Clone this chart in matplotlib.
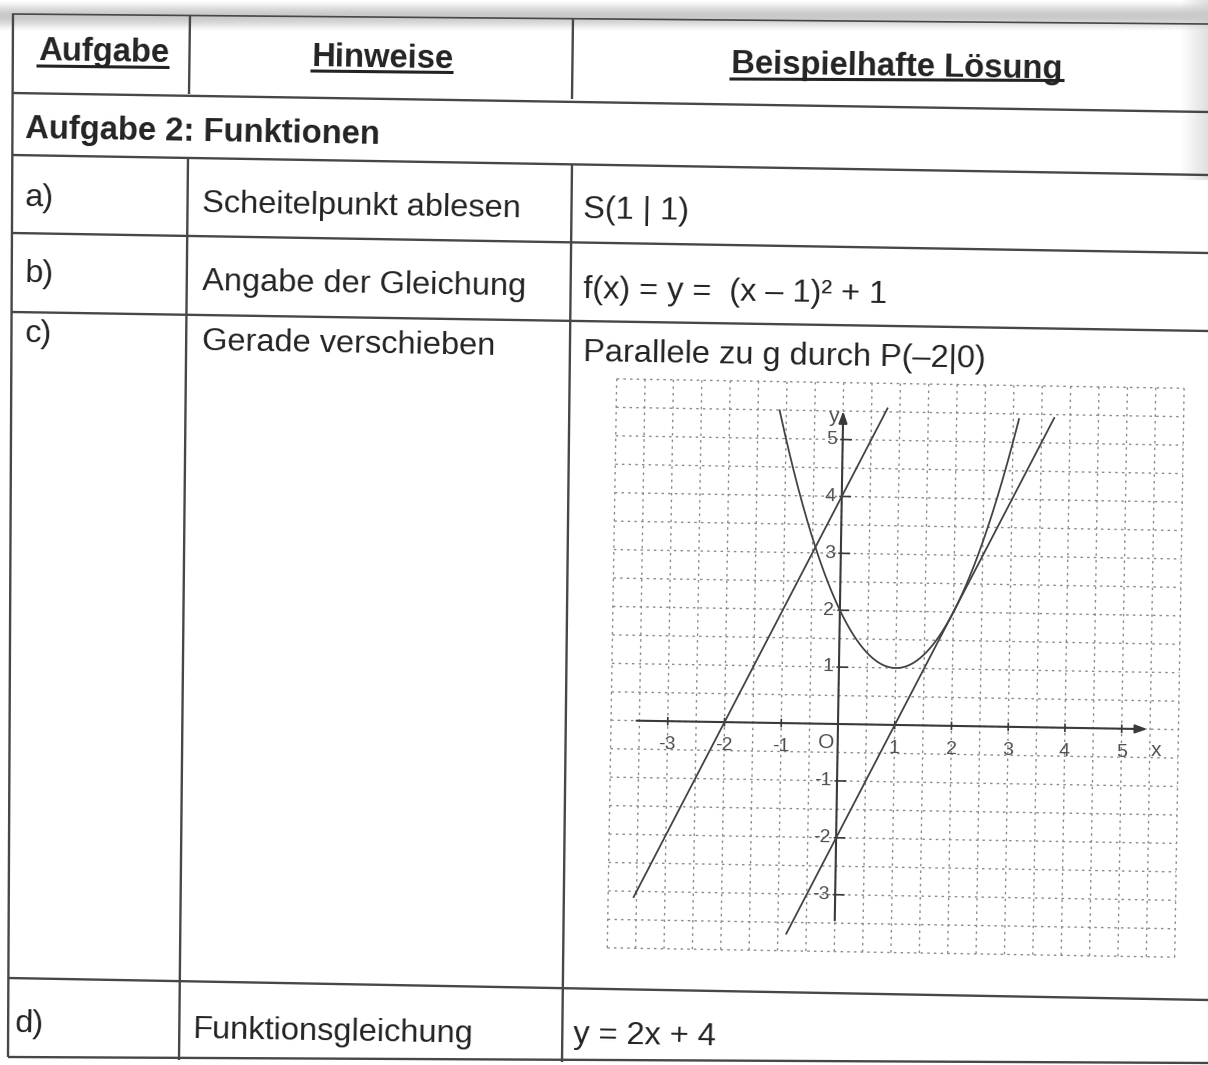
import numpy as np
import matplotlib
matplotlib.use("Agg")
import matplotlib.pyplot as plt
from matplotlib import font_manager
from matplotlib.transforms import Affine2D
from matplotlib.patches import FancyArrowPatch

# ---------------- data ----------------
headers = ["Aufgabe", "Hinweise", "Beispielhafte Lösung"]
section_title = "Aufgabe 2: Funktionen"
row_labels = ["a)", "b)", "c)", "d)"]
row_hints = ["Scheitelpunkt ablesen", "Angabe der Gleichung", "Gerade verschieben", "Funktionsgleichung"]
row_solutions = ["S(1 | 1)", "f(x) = y =  (x \u2013 1)\u00b2 + 1", "Parallele zu g durch P(\u20132|0)", "y = 2x + 4"]

# graph: parabola f(x) = (x-1)^2 + 1, line g: y = 2x - 2, parallel: y = 2x + 4
parab_a, parab_h, parab_k = 1.0, 1.0, 1.0
parab_x_range = (-1.12, 3.1)
g_slope, g_icpt = 2.0, -2.0
g_x_range = (-0.85, 3.72)
p_slope, p_icpt = 2.0, 4.0
p_x_range = (-3.55, 0.78)
x_ticks = [-3, -2, -1, 1, 2, 3, 4, 5]
y_ticks = [-3, -2, -1, 1, 2, 3, 4, 5]

# ---------------- style ----------------
W, H = 1208, 1065
names = {f.name for f in font_manager.fontManager.ttflist}
if "Liberation Sans Narrow" in names:
    HFAM, HSIZE = "Liberation Sans Narrow", 28.0
else:
    HFAM, HSIZE = "Liberation Sans", 23.6
BFAM = "Liberation Sans"
BSIZE = 23.4
TXT = "#232323"
LINE = "#474747"
ROT = -0.95

fig = plt.figure(figsize=(W / 100, H / 100), dpi=100)
fig.patch.set_facecolor("white")
ax = fig.add_axes([0, 0, 1, 1])
ax.set_xlim(0, W)
ax.set_ylim(H, 0)
ax.axis("off")

# scan shadow at top
grad = np.linspace(0, 1, 40).reshape(-1, 1)
shade = np.ones((40, 1, 4))
shade[..., :3] = 0.72
shade[..., 3] = (np.sin(np.pi * grad) ** 1.5)[:, :1] * 0.75
ax.imshow(shade, extent=(0, W, 32, 0), aspect="auto", interpolation="bilinear", zorder=0)
# right edge shading
rg = np.linspace(0, 1, 30).reshape(1, -1)
rs = np.ones((1, 30, 4))
rs[..., :3] = 0.8
rs[..., 3] = rg * 0.6
ax.imshow(rs, extent=(1180, W, 180, 0), aspect="auto", interpolation="bilinear", zorder=0)

def hline(x0, y0, x1, y1, lw=1.7):
    ax.plot([x0, x1], [y0, y1], color=LINE, lw=lw, solid_capstyle="butt", zorder=2)

# horizontal rules (left point, right point)
hline(12, 14, 1208, 24, 1.2)
hline(12, 93, 1208, 112)
hline(12, 155, 1208, 175)
hline(12, 233, 1208, 253)
hline(12, 312, 1208, 331)
hline(8, 978, 1208, 1000)
hline(8, 1057, 1208, 1063)
# vertical rules
hline(13, 14, 8, 1057)
hline(190, 15, 189, 94)
hline(573, 18, 572, 99)
hline(188, 158, 179, 1060)
hline(572, 164, 562, 1062)

def txt(x, y, s, bold=False, size=BSIZE, fam=BFAM):
    ax.text(x, y, s, fontsize=size, family=fam, fontweight="bold" if bold else "normal",
            color=TXT, ha="left", va="baseline", rotation=ROT, rotation_mode="anchor", zorder=3)

# headers with underline
hdr_pos = [(38, 60, 168, 66), (312, 66, 452, 71), (731, 73, 1063, 79)]
for (x, yb, xe, yu), s in zip(hdr_pos, headers):
    txt(x, yb, s, bold=True, size=HSIZE, fam=HFAM)
    ax.plot([x, xe], [yu, yu + 1.5], color=TXT, lw=2.2, zorder=3)

txt(25, 138, section_title, bold=True, size=HSIZE, fam=HFAM)

row_base = [(206, 212, 218), (282, 290, 298), (342, 350, 361), (1032, 1038, 1043)]
col_x = [(25, 202, 583), (25, 202, 583), (25, 202, 583), (15, 192, 573)]
for (yl, yh, ys), (xl, xh, xs), l, h, s in zip(row_base, col_x, row_labels, row_hints, row_solutions):
    txt(xl, yl, l)
    txt(xh, yh, h)
    txt(xs, ys, s)

# ---------------- graph ----------------
ux = 56.75
uy = 56.9
x0p, y0p = 838, 724
xmin, xmax, ymin, ymax = -4.1, 6.1, -4.1, 6.0
left = x0p + xmin * ux
right = x0p + xmax * ux
top = y0p - ymax * uy
bottom = y0p - ymin * uy
gax = fig.add_axes([left / W, 1 - bottom / H, (right - left) / W, (bottom - top) / H])
gax.set_xlim(xmin, xmax)
gax.set_ylim(ymin, ymax)
gax.axis("off")
gax.patch.set_alpha(0)

# slight scan rotation of the whole sheet
TR = gax.transData + Affine2D().rotate_deg_around(x0p, H - y0p, ROT)

def gplot(xs, ys, **kw):
    ln, = gax.plot(xs, ys, **kw)
    ln.set_transform(TR)
    ln.set_clip_on(False)
    return ln

def gtext(x, y, s, **kw):
    gax.text(x, y, s, transform=TR, rotation=ROT, clip_on=False, **kw)

GRID = "#8c8c8c"
for v in np.arange(-4, 6.01, 0.5):
    gplot([v, v], [-4, 6], color=GRID, lw=1.0, ls=(0, (1.8, 3.0)), zorder=1)
    gplot([-4, 6], [v, v], color=GRID, lw=1.0, ls=(0, (1.8, 3.0)), zorder=1)

AX = "#3a3a3a"
for pa, pb in [((-3.6, 0), (5.5, 0)), ((0, -3.5), (0, 5.55))]:
    arr = FancyArrowPatch(pa, pb, arrowstyle="-|>,head_length=0.5,head_width=0.18",
                          mutation_scale=14, color=AX, lw=1.5, transform=TR, clip_on=False)
    gax.add_patch(arr)
TK = "#505050"
for t in x_ticks:
    gplot([t, t], [-0.06, 0.06], color=AX, lw=1.2)
    gtext(t, -0.42, str(t), ha="center", va="center", fontsize=14, color=TK, family=BFAM)
for t in y_ticks:
    gplot([-0.03, 0.15], [t, t], color=AX, lw=1.2)
    gtext(-0.1, t, str(t), ha="right", va="center", fontsize=14, color=TK, family=BFAM)
gtext(-0.2, -0.33, "O", ha="center", va="center", fontsize=15, color=TK, family=BFAM)
gtext(5.62, -0.38, "x", ha="center", va="center", fontsize=15, color=TK, family=BFAM)
gtext(-0.17, 5.4, "y", ha="center", va="center", fontsize=15, color=TK, family=BFAM)

CUR = "#444444"
xp = np.linspace(*parab_x_range, 300)
gplot(xp, parab_a * (xp - parab_h) ** 2 + parab_k, color=CUR, lw=1.3, zorder=3)
xg = np.array(g_x_range)
gplot(xg, g_slope * xg + g_icpt, color=CUR, lw=1.3, zorder=3)
xq = np.array(p_x_range)
gplot(xq, p_slope * xq + p_icpt, color=CUR, lw=1.3, zorder=3)

fig.savefig("out.png", dpi=100, facecolor="white")
